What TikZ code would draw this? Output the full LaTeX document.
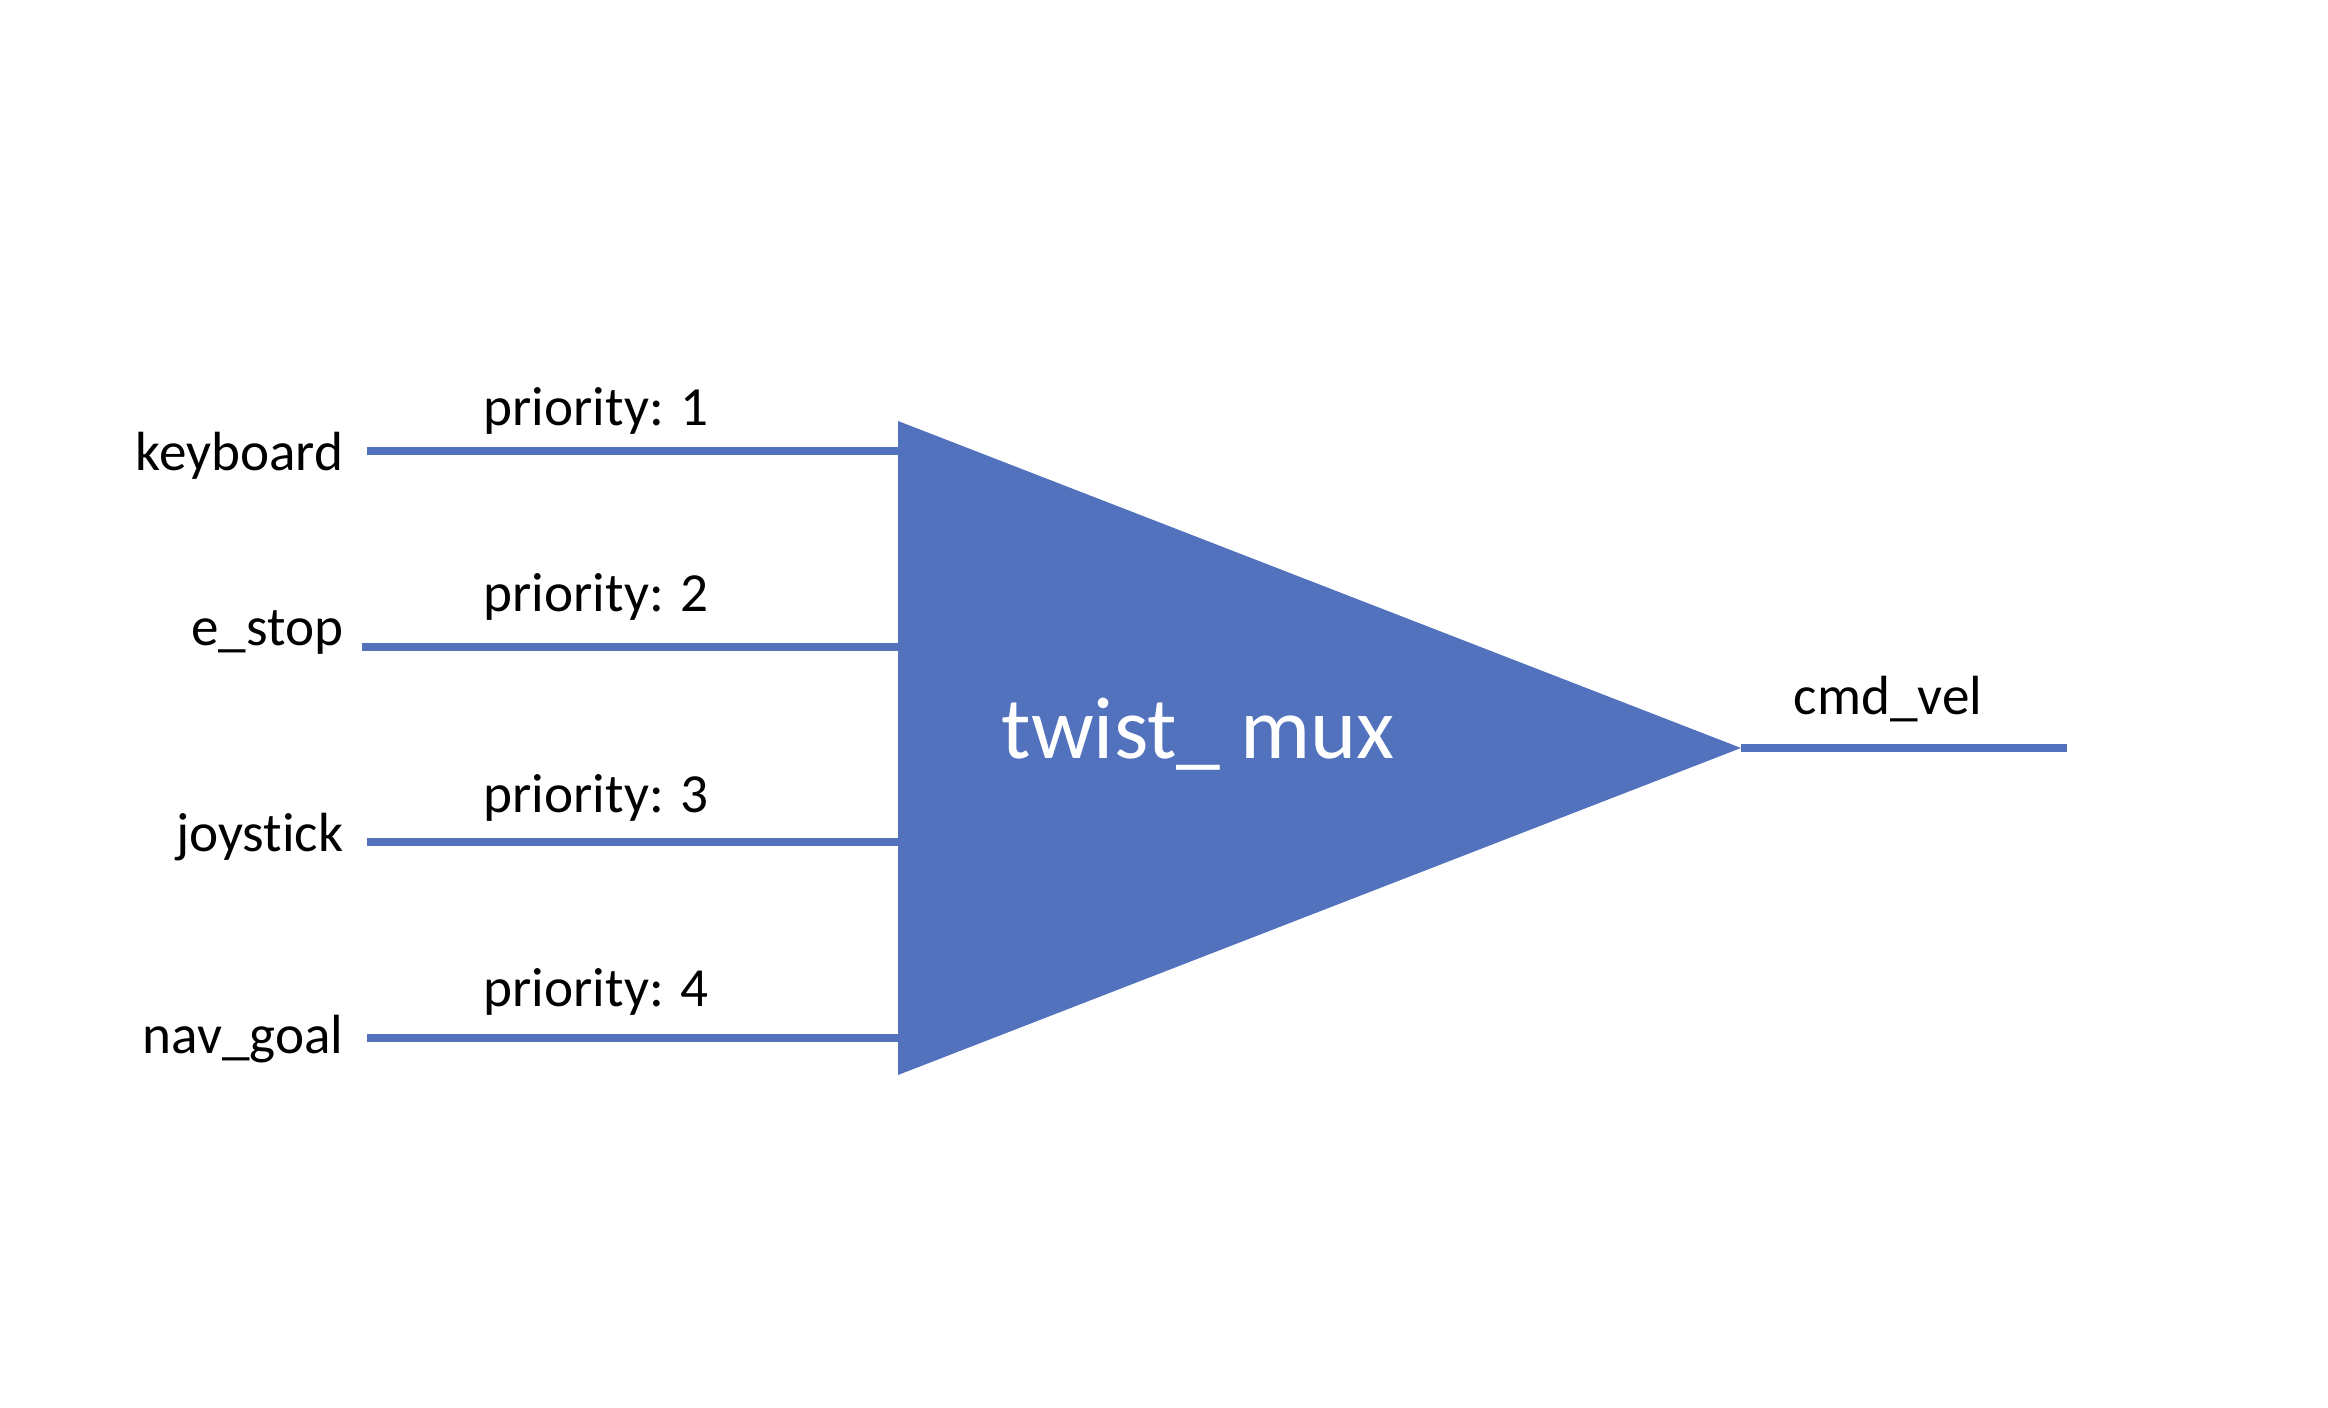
\documentclass[tikz,border=0pt]{standalone}
\usepackage{fontspec}
\setmainfont[Ligatures=NoCommon]{Carlito}
\usetikzlibrary{positioning}
\definecolor{muxblue}{RGB}{82,114,190}
\tikzset{
    wire/.style={draw=muxblue, line width=2.5pt},
    lbl/.style={inner sep=0pt, font=\fontsize{15.7}{19}\selectfont}
}

\begin{document}
\begin{tikzpicture}
\useasboundingbox (0, 0) rectangle (23.28, 14.08);
% inputs
\foreach \k/\txt/\y/\ly/\py/\x in {1/keyboard/9.57/9.37/9.82/3.67, 2/e\_stop/7.61/7.62/7.96/3.62, 3/joystick/5.66/5.56/5.95/3.67, 4/nav\_goal/3.70/3.54/4.01/3.67} {
    \coordinate (in\k) at (\x, \y);
    \coordinate (mi\k) at (8.98, \y);
    \draw[wire] (in\k) -- (mi\k);
    \node[lbl, anchor=base east] (src\k) at (3.44, \ly) {\txt};
    \node[lbl, anchor=base west] (pri\k) at (4.83, \py) {priority: \k};
}
% mux
\fill[muxblue] (8.98, 9.87) coordinate (mtop) -- (17.41, 6.60) coordinate (mout) -- (8.98, 3.33) coordinate (mbot) -- cycle;
\node[anchor=base west, inner sep=0pt, text=white, font=\fontsize{25}{30}\selectfont] (mux) at (10.01, 6.49) {twist\_ mux};
% output
\coordinate (outend) at (20.67, 6.60);
\draw[wire] (mout) -- (outend);
\node[lbl, anchor=base west] (cmd) at (17.93, 6.93) {cmd\_vel};
\end{tikzpicture}
\end{document}
